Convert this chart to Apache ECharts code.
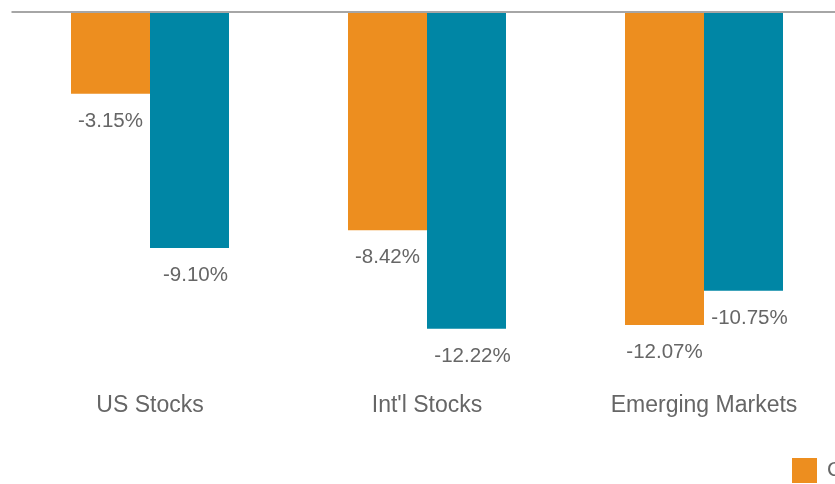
<!DOCTYPE html>
<html>
<head>
<meta charset="utf-8">
<script src="https://cdn.jsdelivr.net/npm/echarts@6/dist/echarts.min.js"></script>
<style>html,body{margin:0;padding:0;background:#fff;overflow:hidden;}#c{width:850px;height:484px;}</style>
</head>
<body>
<div id="c"></div>
<script>
var categories = ['US Stocks', "Int'l Stocks", 'Emerging Markets'];
var seriesNames = ['Correction', 'Comparison'];
var seriesA = [-3.15, -8.42, -12.07];
var seriesB = [-9.10, -12.22, -10.75];

var chart = echarts.init(document.getElementById('c'), null, {renderer: 'canvas'});
var fontFam = '"Liberation Sans", Arial, sans-serif';
function lbl(offX) {
  return {
    show: true, position: 'bottom', distance: 17, offset: [offX, 0],
    color: '#666666', fontSize: 20.5, fontFamily: fontFam,
    formatter: function (p) { return p.value.toFixed(2) + '%'; }
  };
}
chart.setOption({
  animation: false,
  backgroundColor: '#ffffff',
  grid: {left: 11.5, top: 12, width: 831, height: 363, containLabel: false},
  legend: {
    left: 792, top: 458, padding: 0, itemWidth: 25, itemHeight: 25, icon: 'rect', itemGap: 20,
    textStyle: {color: '#666666', fontSize: 21, fontFamily: fontFam, padding: [0, 0, 0, 5]},
    data: seriesNames
  },
  xAxis: {
    type: 'category', data: categories, position: 'bottom',
    axisLine: {show: false}, axisTick: {show: false},
    axisLabel: {color: '#666666', fontSize: 23, fontFamily: fontFam, margin: 19}
  },
  yAxis: {
    type: 'value', min: -14, max: 0,
    axisLine: {show: false}, axisTick: {show: false}, axisLabel: {show: false},
    splitLine: {show: false}
  },
  series: [
    {
      name: seriesNames[0], type: 'bar', data: seriesA, barWidth: 79, barGap: '0%',
      itemStyle: {color: '#ED8E1F'}, label: lbl(0),
      markLine: {
        silent: true, symbol: 'none', label: {show: false},
        lineStyle: {color: '#a6a6a6', width: 2, type: 'solid'},
        data: [{yAxis: 0}]
      }
    },
    {
      name: seriesNames[1], type: 'bar', data: seriesB, barWidth: 79,
      itemStyle: {color: '#0086A5'}, label: lbl(6)
    }
  ]
});
</script>
</body>
</html>
